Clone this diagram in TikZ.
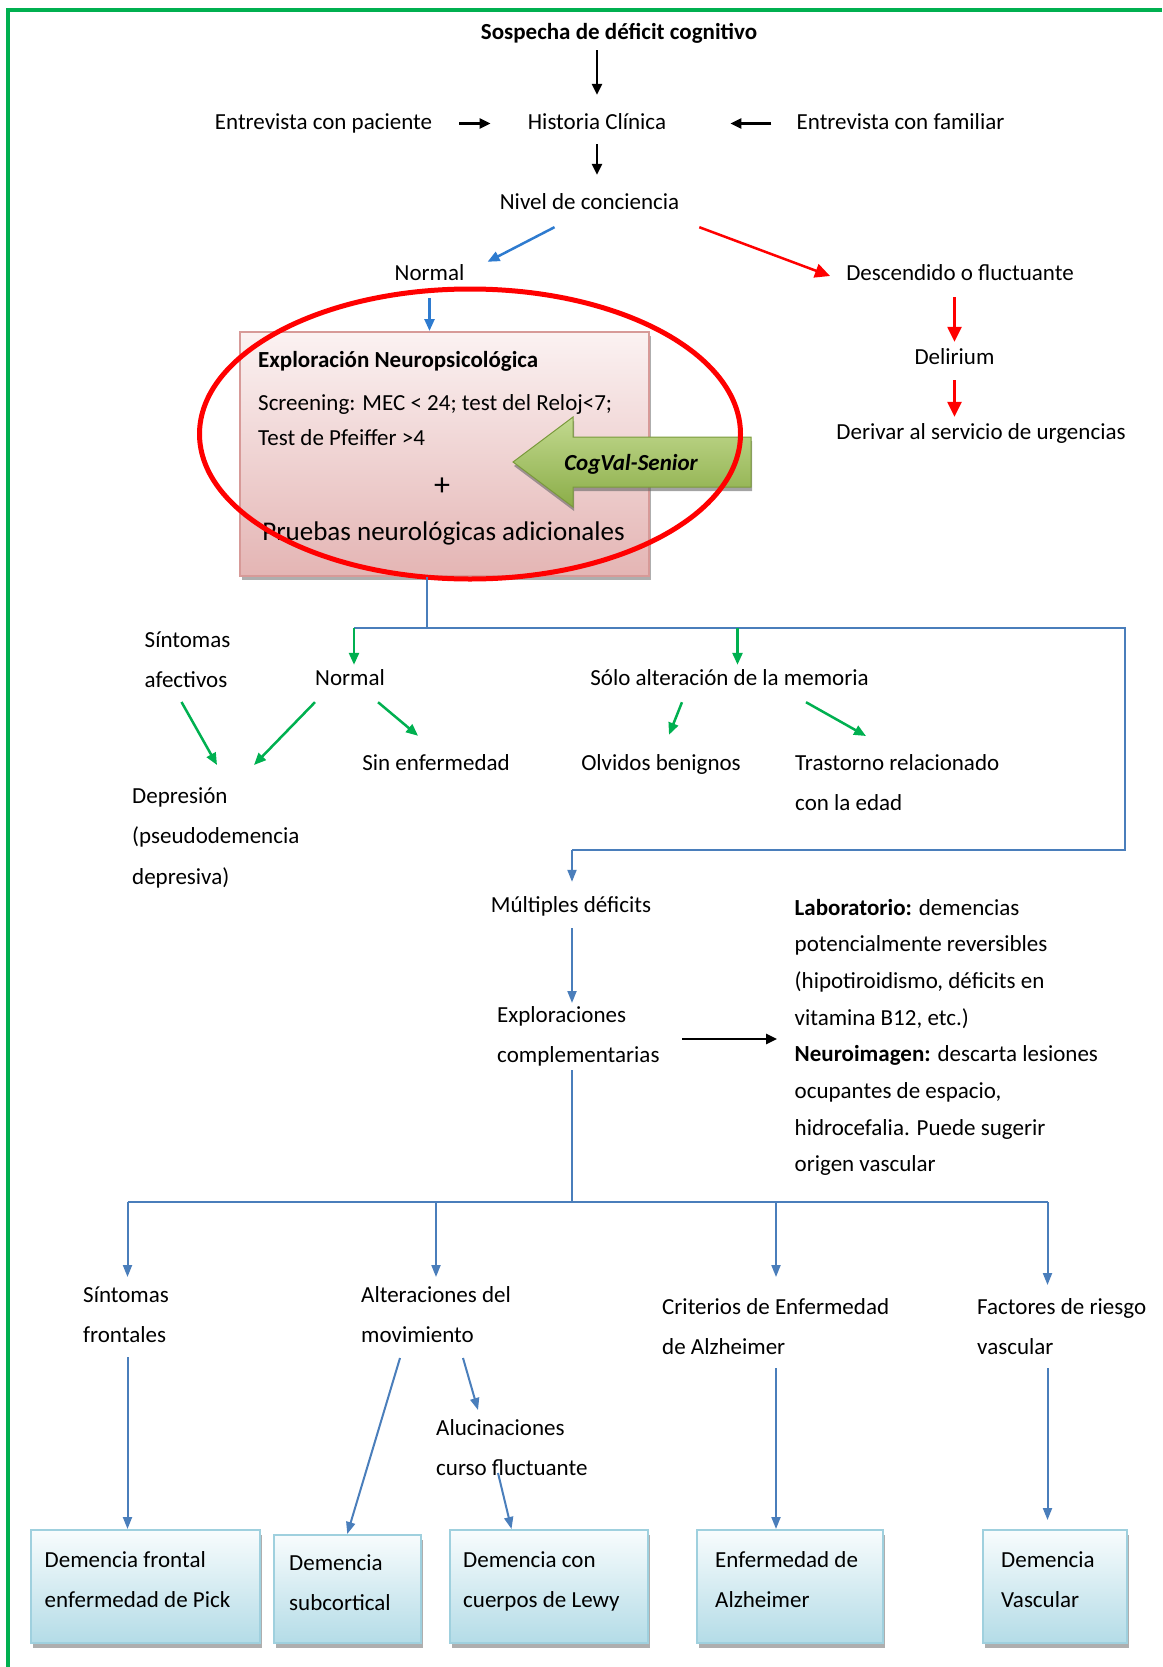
\documentclass[tikz,border=0pt]{standalone}
\usepackage{fontspec}
\setmainfont{Carlito}
\usetikzlibrary{arrows.meta,shadows}

\definecolor{frameGreen}{HTML}{00B050}
\definecolor{arrowGreen}{HTML}{00B050}
\definecolor{lineBlue}{HTML}{4A7EBB}
\definecolor{brightBlue}{HTML}{2E7BCF}
\definecolor{neuroTop}{HTML}{FBF2F2}
\definecolor{neuroBottom}{HTML}{E4B5B4}
\definecolor{neuroEdge}{HTML}{D79A98}
\definecolor{demTop}{HTML}{F8FCFD}
\definecolor{demBottom}{HTML}{B4DCE7}
\definecolor{demEdge}{HTML}{9FD0DE}
\definecolor{cogTop}{HTML}{C2D98F}
\definecolor{cogBottom}{HTML}{8BAD48}
\definecolor{cogEdge}{HTML}{7A9A3C}

\tikzset{
  lbl/.style={font=\fontsize{23}{40.5}\selectfont, inner sep=0pt, text height=18pt, text depth=5pt},
  txt/.style={font=\fontsize{23}{40.5}\selectfont, inner sep=0pt, align=left},
  boldtxt/.style={font=\fontsize{23}{40.5}\selectfont\bfseries},
  blkarrow/.style={draw=black, line width=2.5pt, -{Triangle[length=11pt,width=10pt]}},
  redarrow/.style={draw=red, line width=2.5pt, -{Triangle[length=15pt,width=14pt]}},
  grnarrow/.style={draw=arrowGreen, line width=2.5pt, -{Triangle[length=12pt,width=10pt]}},
  bluearrow/.style={draw=lineBlue, line width=2pt, -{Triangle[length=12pt,width=9pt]}},
  brightarrow/.style={draw=brightBlue, line width=2.5pt, -{Triangle[length=12pt,width=10pt]}},
  blueline/.style={draw=lineBlue, line width=2pt},
  frameline/.style={draw=frameGreen, line width=4pt},
  neurobox/.style={draw=neuroEdge, line width=1.5pt, top color=neuroTop, bottom color=neuroBottom,
    minimum width=409pt, minimum height=244pt, inner sep=0pt,
    drop shadow={shadow xshift=2pt, shadow yshift=-4pt, fill=black!45, opacity=.7}},
  dembox/.style={draw=demEdge, line width=1.5pt, top color=demTop, bottom color=demBottom,
    minimum height=113pt, inner sep=0pt,
    drop shadow={shadow xshift=2pt, shadow yshift=-5pt, fill=black!45, opacity=.7}},
  cogarrow/.style={draw=cogEdge, line width=1pt, top color=cogTop, bottom color=cogBottom,
    drop shadow={shadow xshift=1pt, shadow yshift=-4pt, fill=black!60, opacity=.6}}
}

\begin{document}
\begin{tikzpicture}[x=1pt,y=-1pt]
  \useasboundingbox (0,0) rectangle (1162,1667);
  \draw[frameline] (7.5,1667) -- (7.5,10) -- (1162,10);

  % top part
  \node[lbl, boldtxt, anchor=base] (sosp) at (619,40) {Sospecha de déficit cognitivo};
  \node[lbl, anchor=base] (entpac) at (323.5,130) {Entrevista con paciente};
  \node[lbl, anchor=base] (hist) at (597,130) {Historia Clínica};
  \node[lbl, anchor=base] (entfam) at (900.5,130) {Entrevista con familiar};
  \node[lbl, anchor=base] (nivel) at (589.5,209) {Nivel de conciencia};
  \node[lbl, anchor=base] (normA) at (429.5,280) {Normal};
  \node[lbl, anchor=base] (desc) at (960,280) {Descendido o fluctuante};
  \node[lbl, anchor=base] (delir) at (954.5,364) {Delirium};
  \node[lbl, anchor=base] (deriv) at (981,439) {Derivar al servicio de urgencias};

  \draw[blkarrow, shorten <=5pt, shorten >=17pt] (hist.north |- sosp.south) -- (hist.north);
  \draw[blkarrow, shorten <=27pt, shorten >=37pt] (entpac.east) -- (hist.west);
  \draw[blkarrow, shorten <=25pt, shorten >=64pt] (entfam.west) -- (hist.east);
  \draw[blkarrow, shorten <=9pt, shorten >=16pt] (hist.south) -- (hist.south |- nivel.north);
  \draw[brightarrow] ([xshift=-35pt,yshift=-13pt]nivel.south) -- ([xshift=23pt]normA.north east);
  \draw[redarrow] ([xshift=20pt,yshift=-13pt]nivel.south east) -- ([xshift=-16pt,yshift=-2.5pt]desc.west);
  \draw[redarrow, shorten <=12pt, shorten >=4pt] (delir.north |- desc.south) -- (delir.north);
  \draw[redarrow, shorten <=11pt, shorten >=4pt] (delir.south) -- (delir.south |- deriv.north);

  % exploracion neuropsicologica
  \node[neurobox, anchor=north west] (neuro) at (239,331) {};
  \draw[brightarrow, shorten <=13pt] (normA.south) -- (normA.south |- neuro.north);
  \node[lbl, boldtxt, anchor=base west] (neurotit) at (258,367) {Exploración Neuropsicológica};
  \node[lbl, anchor=base west] (screen) at (258,410) {Screening: MEC < 24; test del Reloj<7;};
  \node[lbl, anchor=base west] (pfeif) at (258,445) {Test de Pfeiffer >4};
  \node[lbl, font=\fontsize{32}{40}\selectfont, anchor=base] (plus) at (442,495) {+};
  \node[lbl, font=\fontsize{27}{40}\selectfont, anchor=base] (pruebas) at (443.5,540) {Pruebas neurológicas adicionales};
  \path[cogarrow] (513,462) -- (573,417) -- (573,437) -- (751,437) -- (751,487)
    -- (573,487) -- (573,507) -- cycle;
  \node[lbl, font=\fontsize{23}{40.5}\selectfont\bfseries\itshape, anchor=base] (cogval) at (631,470) {CogVal-Senior};
  \draw[red, line width=5pt] (470,434) ellipse [x radius=270.5, y radius=145];

  % resultado de la exploracion
  \coordinate (hubA) at (427,628);
  \coordinate (hubAl) at (354,628);
  \coordinate (hubAs) at (737.5,628);
  \coordinate (hubAr) at (1125,628);
  \coordinate (hubAd) at (1125,850);
  \coordinate (hubAm) at (572,850);
  \node[txt, anchor=base west] (sintaf) at (144.5,687.5) {Síntomas\\afectivos};
  \node[lbl, anchor=base] (normB) at (350,685) {Normal};
  \node[lbl, anchor=base] (solo) at (729.5,685) {Sólo alteración de la memoria};
  \node[lbl, anchor=base] (sinenf) at (436,770) {Sin enfermedad};
  \node[lbl, anchor=base] (olvid) at (661,770) {Olvidos benignos};
  \node[txt, anchor=base west] (trast) at (795,810.5) {Trastorno relacionado\\con la edad};
  \node[txt, anchor=base west] (depres) at (132,884) {Depresión\\(pseudodemencia\\depresiva)};
  \node[lbl, anchor=base] (multi) at (571,912) {Múltiples déficits};

  \draw[blueline] (neuro.south -| hubA) -- (hubA);
  \draw[blueline] (hubAl) -- (hubAr) -- (hubAd) -- (hubAm);
  \draw[bluearrow, shorten >=12pt] (hubAm) -- (hubAm |- multi.north);
  \draw[grnarrow, shorten >=2pt] (hubAl) -- (hubAl |- normB.north);
  \draw[grnarrow, shorten >=2pt] (hubAs) -- (hubAs |- solo.north);
  \draw[grnarrow] ([xshift=37pt,yshift=-14.5pt]sintaf.base west) -- ([xshift=85pt,yshift=119pt]depres.base west);
  \draw[grnarrow] ([yshift=-12pt]normB.south west) -- ([xshift=122pt,yshift=119pt]depres.base west);
  \draw[grnarrow] ([xshift=-7pt,yshift=-12pt]normB.south east) -- ([xshift=56pt,yshift=16pt]sinenf.north west);
  \draw[grnarrow] ([xshift=-47.5pt,yshift=-12pt]solo.south) -- ([xshift=8pt,yshift=17pt]olvid.north);
  \draw[grnarrow] ([xshift=76.5pt,yshift=-12pt]solo.south) -- ([xshift=71pt,yshift=74.5pt]trast.base west);

  % exploraciones complementarias
  \node[txt, anchor=base west] (explc) at (497,1062.5) {Exploraciones\\complementarias};
  \node[txt, font=\fontsize{23}{36.7}\selectfont, anchor=base west] (lab) at (794.5,1171.9)
    {\textbf{Laboratorio:} demencias\\potencialmente reversibles\\(hipotiroidismo, déficits en\\vitamina B12, etc.)\\\textbf{Neuroimagen:} descarta lesiones\\ocupantes de espacio,\\hidrocefalia. Puede sugerir\\origen vascular};
  \coordinate (explcin) at ([xshift=75pt,yshift=59.5pt]explc.base west);
  \draw[bluearrow, shorten <=11pt] (explcin |- multi.south) -- (explcin);
  \draw[blkarrow] ([xshift=185pt,yshift=23.5pt]explc.base west) -- ([xshift=-17.5pt,yshift=132.9pt]lab.base west);

  % diagnosticos
  \coordinate (hubB) at (572,1202);
  \coordinate (hubBl) at (127.5,1202);
  \coordinate (hubBr) at (1047.5,1202);
  \node[txt, anchor=base west] (sfront) at (83,1342.5) {Síntomas\\frontales};
  \node[txt, anchor=base west] (altmov) at (361,1342.5) {Alteraciones del\\movimiento};
  \node[txt, anchor=base west] (crit) at (662,1354.5) {Criterios de Enfermedad\\de Alzheimer};
  \node[txt, anchor=base west] (fact) at (977,1354.5) {Factores de riesgo\\vascular};
  \node[txt, anchor=base west] (aluc) at (436,1475.5) {Alucinaciones\\curso fluctuante};
  \coordinate (altmovin) at ([xshift=75pt,yshift=65.5pt]altmov.base west);
  \coordinate (critin) at ([xshift=114pt,yshift=77.5pt]crit.base west);

  \node[dembox, minimum width=229pt, anchor=north west] (dfront) at (30,1529) {};
  \node[dembox, minimum width=147pt, minimum height=108pt, anchor=north west] (dsub) at (273,1534) {};
  \node[dembox, minimum width=198pt, anchor=north west] (dlewy) at (449,1529) {};
  \node[dembox, minimum width=186pt, anchor=north west] (dalz) at (696,1529) {};
  \node[dembox, minimum width=144pt, anchor=north west] (dvasc) at (982,1529) {};
  \node[txt, anchor=base west] (dfronttxt) at (44.5,1607.5) {Demencia frontal\\enfermedad de Pick};
  \node[txt, anchor=base west] (dsubtxt) at (289,1610.5) {Demencia\\subcortical};
  \node[txt, anchor=base west] (dlewytxt) at (463,1607.5) {Demencia con\\cuerpos de Lewy};
  \node[txt, anchor=base west] (dalztxt) at (715,1607.5) {Enfermedad de\\Alzheimer};
  \node[txt, anchor=base west] (dvasctxt) at (1001,1607.5) {Demencia\\Vascular};

  \draw[blueline] ([xshift=75pt,yshift=-7.5pt]explc.base west) -- (hubB);
  \draw[blueline] (hubBl) -- (hubBr);
  \draw[bluearrow] (hubBl) -- ([xshift=44.5pt,yshift=65.5pt]sfront.base west);
  \draw[bluearrow] (altmovin |- hubB) -- (altmovin);
  \draw[bluearrow] (critin |- hubB) -- (critin);
  \draw[bluearrow] (hubBr) -- ([xshift=70.5pt,yshift=69.5pt]fact.base west);
  \draw[bluearrow] ([xshift=44.5pt,yshift=-14.5pt]sfront.base west) -- (dfront.north -| hubBl);
  \draw[bluearrow] ([xshift=39pt,yshift=-15.5pt]altmov.base west) -- (dsub.north);
  \draw[bluearrow] ([xshift=102pt,yshift=-15.5pt]altmov.base west) -- ([xshift=42pt,yshift=65.5pt]aluc.base west);
  \draw[bluearrow] ([xshift=62pt,yshift=2.5pt]aluc.base west) -- ([xshift=62.5pt]dlewy.north west);
  \draw[bluearrow] ([xshift=114pt,yshift=-13.5pt]crit.base west) -- (dalz.north -| critin);
  \draw[bluearrow, shorten >=9pt] ([xshift=70.5pt,yshift=-13.5pt]fact.base west) -- (dvasc.north -| hubBr);
\end{tikzpicture}
\end{document}
